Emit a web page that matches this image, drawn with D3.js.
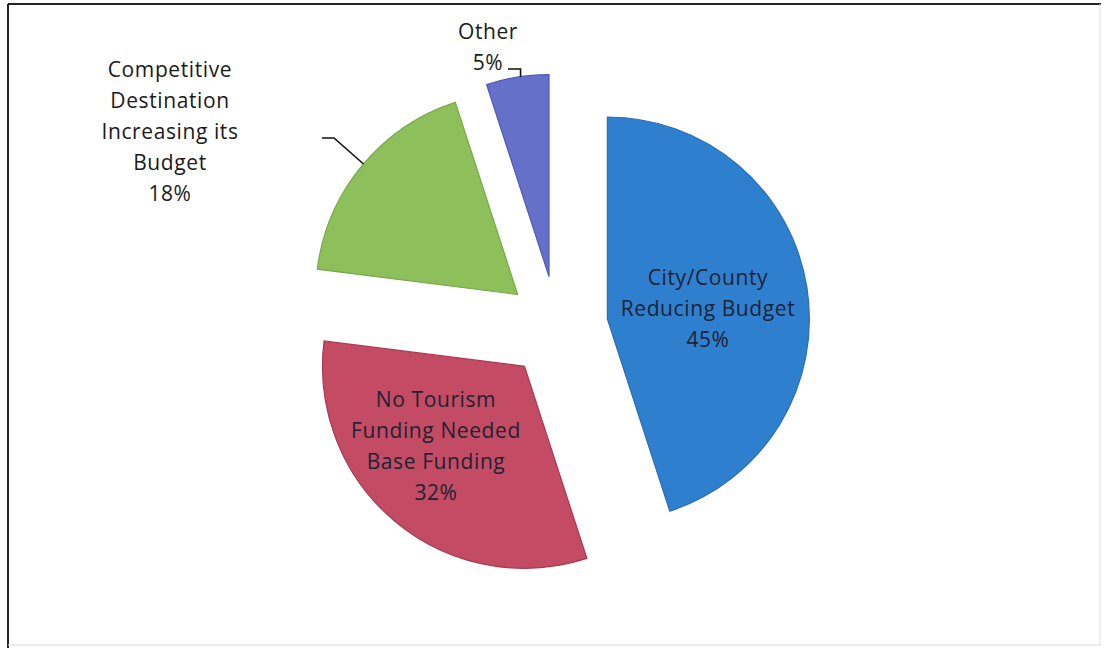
<!DOCTYPE html>
<html>
<head>
<meta charset="utf-8">
<script src="https://cdn.jsdelivr.net/npm/d3@7"></script>
<style>
  html, body { margin: 0; padding: 0; background: #fff; }
  svg { display: block; }
  text { font-family: "Open Sans", Lato, "Liberation Sans", sans-serif; }
</style>
</head>
<body>
<svg id="chart" width="1104" height="648"></svg>
<script>
// Reasons for tourism budget change (share of responses, %)
const categories = [
  "City/County Reducing Budget",
  "No Tourism Funding Needed Base Funding",
  "Competitive Destination Increasing its Budget",
  "Other"
];
const values = [45, 32, 18, 5];
const labelLines = [
  ["City/County", "Reducing Budget", "45%"],
  ["No Tourism", "Funding Needed", "Base Funding", "32%"],
  ["Competitive", "Destination", "Increasing its", "Budget", "18%"],
  ["Other", "5%"]
];
const colors = ["#2f7fcf", "#c34b63", "#8dbf5a", "#6571c9"];
const strokes = ["#2a6db3", "#a83a50", "#78a848", "#4f5ab5"];

const W = 1104, H = 648;
const svg = d3.select("#chart");

// frame around the chart area
svg.append("line").attr("x1", 8).attr("y1", 4).attr("x2", 1101).attr("y2", 4)
  .attr("stroke", "#222").attr("stroke-width", 2);
svg.append("line").attr("x1", 8).attr("y1", 4).attr("x2", 8).attr("y2", 648)
  .attr("stroke", "#222").attr("stroke-width", 2);
svg.append("line").attr("x1", 1100).attr("y1", 4).attr("x2", 1100).attr("y2", 646)
  .attr("stroke", "#e4e4e4").attr("stroke-width", 1);
svg.append("line").attr("x1", 8).attr("y1", 645).attr("x2", 1100).attr("y2", 645)
  .attr("stroke", "#dcdcdc").attr("stroke-width", 1);

// pie geometry
const cx = 557, cy = 327, radius = 202, explode = 51;

const pie = d3.pie().sort(null).value(d => d.value).startAngle(0).endAngle(2 * Math.PI);
const arc = d3.arc().innerRadius(0).outerRadius(radius);
const data = pie(categories.map((c, i) => ({ name: c, value: values[i], lines: labelLines[i], i })));

// offset of each exploded slice along its mid angle
function offset(d, dist) {
  const a = (d.startAngle + d.endAngle) / 2;
  return [dist * Math.sin(a), -dist * Math.cos(a)];
}

const g = svg.append("g").attr("transform", `translate(${cx},${cy})`);

const slices = g.selectAll("g.slice").data(data).join("g")
  .attr("class", "slice")
  .attr("transform", d => { const [dx, dy] = offset(d, explode); return `translate(${dx},${dy})`; });

slices.append("path")
  .attr("d", arc)
  .attr("fill", d => colors[d.data.i])
  .attr("stroke", d => strokes[d.data.i])
  .attr("stroke-width", 1.2)
  .attr("stroke-linejoin", "miter");

// label placement: inside for large slices, outside with leader lines for small ones
const fs = 21, lh = 31;
const labelPos = [
  { x: 708, y: 285, inside: true },
  { x: 436, y: 407, inside: true },
  { x: 170, y: 77, inside: false },
  { x: 488, y: 39, inside: false }
];

data.forEach(d => {
  const p = labelPos[d.data.i];
  const t = svg.append("text")
    .attr("text-anchor", "middle")
    .attr("font-size", fs)
    .attr("letter-spacing", 0.6)
    .attr("fill", p.inside ? "#1c2333" : "#1a1a1a");
  d.data.lines.forEach((ln, k) => {
    t.append("tspan").attr("x", p.x).attr("y", p.y + k * lh).text(ln);
  });
});

// leader lines for the outside labels, ending on each slice's rim
function rimPoint(d, frac) {
  const a = d.startAngle + (d.endAngle - d.startAngle) * frac;
  const [ox, oy] = offset(d, explode);
  return [cx + ox + radius * Math.sin(a), cy + oy - radius * Math.cos(a)];
}
const green = data[2], other = data[3];
const gEnd = rimPoint(green, 0.51);
svg.append("path")
  .attr("d", d3.line()([[322, 138], [334, 138], gEnd]))
  .attr("fill", "none").attr("stroke", "#111").attr("stroke-width", 1.6);
const oEnd = rimPoint(other, 0.55);
svg.append("path")
  .attr("d", d3.line()([[508, 69], [oEnd[0], 69], oEnd]))
  .attr("fill", "none").attr("stroke", "#111").attr("stroke-width", 1.6);
</script>
</body>
</html>
